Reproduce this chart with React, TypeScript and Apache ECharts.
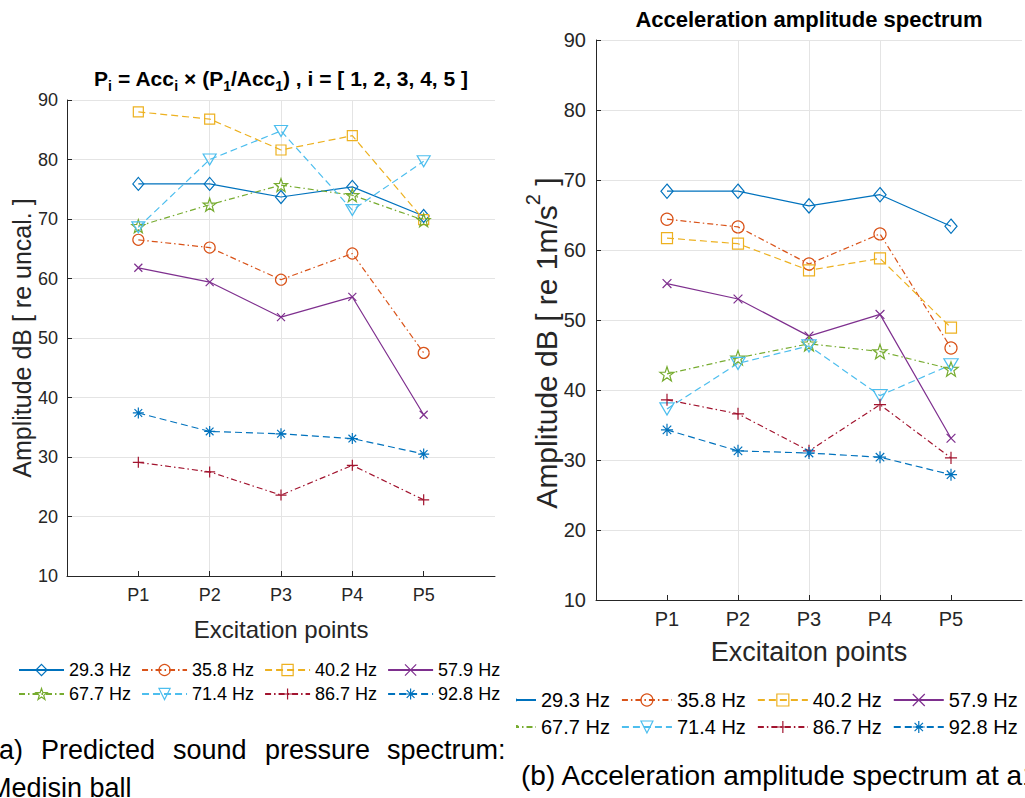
import React, { useEffect, useRef } from 'react';
import * as echarts from 'echarts';

// ---------- data ----------
const xTickLabels = ['', 'P1', 'P2', 'P3', 'P4', 'P5', ''];
const pointIndex = [1, 2, 3, 4, 5];
const seriesNames = ['29.3 Hz', '35.8 Hz', '40.2 Hz', '57.9 Hz', '67.7 Hz', '71.4 Hz', '86.7 Hz', '92.8 Hz'];

// (a) predicted sound pressure [dB re uncal.]
const spl293 = [75.9, 75.9, 73.7, 75.4, 70.5];
const spl358 = [66.5, 65.2, 59.8, 64.2, 47.5];
const spl402 = [88.0, 86.8, 81.6, 84.0, 69.9];
const spl579 = [61.8, 59.4, 53.5, 56.9, 37.1];
const spl677 = [68.8, 72.4, 75.7, 74.0, 69.8];
const spl714 = [68.6, 80.0, 84.8, 71.5, 79.7];
const spl867 = [29.1, 27.5, 23.6, 28.6, 22.8];
const spl928 = [37.4, 34.3, 33.9, 33.1, 30.5];

// (b) acceleration amplitude [dB re 1 m/s^2]
const acc293 = [68.4, 68.4, 66.3, 67.9, 63.4];
const acc358 = [64.4, 63.3, 58.0, 62.3, 46.0];
const acc402 = [61.7, 60.9, 57.1, 58.8, 48.9];
const acc579 = [55.2, 53.0, 47.7, 50.8, 33.1];
const acc677 = [42.3, 44.6, 46.6, 45.5, 43.0];
const acc714 = [37.3, 43.8, 46.3, 39.2, 43.6];
const acc867 = [38.6, 36.6, 31.3, 37.9, 30.3];
const acc928 = [34.3, 31.3, 31.0, 30.4, 27.9];

const splSets = [spl293, spl358, spl402, spl579, spl677, spl714, spl867, spl928];
const accSets = [acc293, acc358, acc402, acc579, acc677, acc714, acc867, acc928];

// ---------- styles ----------
const FONT = 'Liberation Sans, Arial, Helvetica, sans-serif';
const colors = ['#0072BD', '#D95319', '#EDB120', '#7E2F8E', '#77AC30', '#4DBEEE', '#A2142F', '#0072BD'];
const DASH = [7, 4];
const DASHDOT = [6, 3, 1.5, 3];
const lineTypes: any[] = ['solid', DASHDOT, DASH, 'solid', DASHDOT, DASH, DASHDOT, DASH];

const STAR = 'path://M10,0L12.35,6.76L19.51,6.91L13.8,11.24L15.88,18.09L10,14L4.12,18.09L6.2,11.24L0.49,6.91L7.65,6.76Z';
const XMARK = 'path://M0,0L10,10M10,0L0,10';
const PLUS = 'path://M5,0L5,10M0,5L10,5';
const ASTER = 'path://M5,0L5,10M0,5L10,5M1.5,1.5L8.5,8.5M8.5,1.5L1.5,8.5';
const TRIDOWN = 'path://M0,0L10,0L5,8.66Z';
const symbols = ['diamond', 'circle', 'rect', XMARK, STAR, TRIDOWN, PLUS, ASTER];
const symbolSizes: any[] = [[11, 13], 11, 10, 8, 13, [13, 11], 11, 11];

function scaleSize(s: any, k: number) {
  return Array.isArray(s) ? s.map((v: number) => v * k) : s * k;
}

function buildSeries(sets: number[][], axis: number, k: number) {
  return sets.map((vals, i) => ({
    type: 'line',
    name: seriesNames[i],
    xAxisIndex: axis,
    yAxisIndex: axis,
    data: vals.map((v, j) => [pointIndex[j], v]),
    symbol: symbols[i],
    symbolSize: scaleSize(symbolSizes[i], k),
    showAllSymbol: true,
    lineStyle: { color: colors[i], width: 1.2, type: lineTypes[i] },
    itemStyle: { color: 'transparent', borderColor: colors[i], borderWidth: 1.2 },
    emphasis: { disabled: true },
    silent: true,
  }));
}

function xAxisDef(grid: number, fs: number, name: string, gap: number, nameFs: number, labelMargin: number) {
  return {
    type: 'value',
    gridIndex: grid,
    min: 0,
    max: 6,
    interval: 1,
    name,
    nameLocation: 'middle',
    nameGap: gap,
    nameTextStyle: { fontSize: nameFs, color: '#262626', fontFamily: FONT },
    axisLine: { show: true, onZero: false, lineStyle: { color: '#262626', width: 1 } },
    axisTick: { show: true, inside: true, length: 5, customValues: pointIndex, lineStyle: { color: '#262626' } },
    axisLabel: {
      customValues: pointIndex,
      formatter: (v: number) => xTickLabels[v] ?? '',
      fontSize: fs,
      color: '#262626',
      fontFamily: FONT,
      margin: labelMargin,
    },
    splitLine: { show: true, showMinLine: false, showMaxLine: false, lineStyle: { color: '#e4e4e4', width: 1 } },
  };
}

function yAxisDef(grid: number, fs: number, name: string, gap: number, nameFs: number, labelMargin: number) {
  return {
    type: 'value',
    gridIndex: grid,
    min: 10,
    max: 90,
    interval: 10,
    name,
    nameLocation: 'middle',
    nameGap: gap,
    nameTextStyle: { fontSize: nameFs, color: '#262626', fontFamily: FONT, lineHeight: nameFs },
    axisLine: { show: true, onZero: false, lineStyle: { color: '#262626', width: 1 } },
    axisTick: { show: true, inside: true, length: 5, lineStyle: { color: '#262626' } },
    axisLabel: { fontSize: fs, color: '#262626', fontFamily: FONT, margin: labelMargin },
    splitLine: { show: true, lineStyle: { color: '#e4e4e4', width: 1 } },
  };
}

function legendDef(names: string[], left: number, top: number, w: number, h: number, gap: number, fs: number, z: number) {
  return {
    data: names,
    left,
    top,
    z,
    orient: 'horizontal',
    itemWidth: w,
    itemHeight: h,
    itemGap: gap,
    selectedMode: false,
    padding: 0,
    textStyle: { fontSize: fs, color: '#000', fontFamily: FONT },
    itemStyle: { borderWidth: 1.2 },
  };
}

export default function App() {
  const ref = useRef<HTMLDivElement>(null);
  useEffect(() => {
    if (!ref.current) return;
    const chart = echarts.init(ref.current, undefined, { renderer: 'svg' });
    const option: any = {
      animation: false,
      backgroundColor: '#fff',
      title: [
        {
          text: 'P{sub|i} = Acc{sub|i} × (P{sub|1}/Acc{sub|1}) , i = [ 1, 2, 3, 4, 5 ]',
          left: 281,
          textAlign: 'center',
          top: 63,
          padding: 0,
          textStyle: {
            fontSize: 21,
            fontWeight: 'bold',
            color: '#000',
            fontFamily: FONT,
            lineHeight: 30,
            rich: { sub: { fontSize: 14, fontWeight: 'bold', verticalAlign: 'bottom', lineHeight: 15, color: '#000', fontFamily: FONT } },
          },
        },
        {
          text: 'Acceleration amplitude spectrum',
          left: 809,
          textAlign: 'center',
          top: 8,
          padding: 0,
          textStyle: { fontSize: 22, fontWeight: 'bold', color: '#000', fontFamily: FONT },
        },
      ],
      grid: [
        { left: 67, top: 100, width: 428, height: 476, containLabel: false },
        { left: 596, top: 40, width: 426, height: 560, containLabel: false },
      ],
      xAxis: [
        xAxisDef(0, 18, 'Excitation points', 41, 24, 10),
        xAxisDef(1, 20, 'Excitaiton points', 38, 27, 9),
      ],
      yAxis: [
        yAxisDef(0, 18, 'Amplitude dB [ re uncal. ]', 30, 25, 9),
        yAxisDef(1, 20, '', 36, 27, 10),
      ],
      legend: [
        legendDef(seriesNames.slice(0, 4), 18, 661, 45, 14, 10, 18, 4),
        legendDef(seriesNames.slice(4, 8), 18, 685, 45, 14, 10, 18, 4),
        legendDef(seriesNames.slice(0, 4), 485, 690, 50, 15, 11, 20, 2),
        legendDef(seriesNames.slice(4, 8), 485, 717, 50, 15, 11, 20, 2),
      ],
      series: [...buildSeries(splSets, 0, 1), ...buildSeries(accSets, 1, 1.1)],
      graphic: [
        { type: 'rect', z: 3, shape: { x: 478, y: 688, width: 38, height: 54 }, style: { fill: '#fff' } },
        {
          type: 'text',
          z: 10,
          x: 546,
          y: 343,
          rotation: Math.PI / 2,
          style: {
            text: 'Amplitude dB [ re 1m/s{sup|2} ]',
            font: `30px ${FONT}`,
            fontSize: 30,
            fontFamily: FONT,
            fill: '#262626',
            align: 'center',
            verticalAlign: 'middle',
            lineHeight: 46,
            rich: { sup: { fontSize: 20, fontFamily: FONT, fill: '#262626', verticalAlign: 'top', lineHeight: 20 } },
          },
        },
        { type: 'text', z: 100, x: -10, y: 750, style: { text: '(a)', font: `27px ${FONT}`, fill: '#000', verticalAlign: 'middle' } },
        { type: 'text', z: 100, x: 41, y: 750, style: { text: 'Predicted', font: `27px ${FONT}`, fill: '#000', verticalAlign: 'middle' } },
        { type: 'text', z: 100, x: 173, y: 750, style: { text: 'sound', font: `27px ${FONT}`, fill: '#000', verticalAlign: 'middle' } },
        { type: 'text', z: 100, x: 265, y: 750, style: { text: 'pressure', font: `27px ${FONT}`, fill: '#000', verticalAlign: 'middle' } },
        { type: 'text', z: 100, x: 387, y: 750, style: { text: 'spectrum:', font: `27px ${FONT}`, fill: '#000', verticalAlign: 'middle' } },
        { type: 'text', z: 100, x: -11, y: 788, style: { text: 'Medisin ball', font: `27px ${FONT}`, fill: '#000', verticalAlign: 'middle' } },
        { type: 'text', z: 100, x: 521, y: 775, style: { text: '(b) Acceleration amplitude spectrum at a1', font: `28px ${FONT}`, fill: '#000', verticalAlign: 'middle' } },
      ],
    };
    chart.setOption(option);
    return () => chart.dispose();
  }, []);
  return <div ref={ref} style={{ position: 'absolute', left: 0, top: 0, width: 1025, height: 798 }} />;
}
